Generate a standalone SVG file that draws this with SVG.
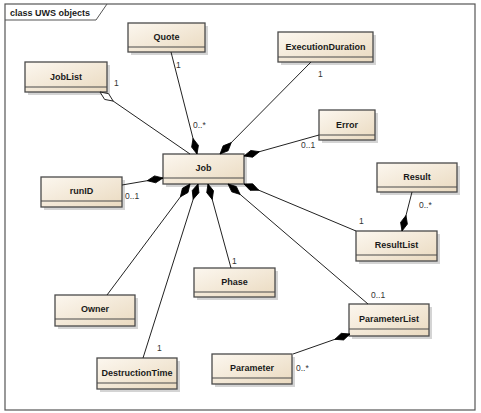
<svg xmlns="http://www.w3.org/2000/svg" width="481" height="413" viewBox="0 0 481 413">
<style>
.frame{fill:#fff;stroke:#555;stroke-width:1.2}
.box{fill:url(#g);stroke:#4a4a4a;stroke-width:1.3}
.sh{fill:#b8b8b8;opacity:.6}
.sep{stroke:#4a4a4a;stroke-width:1.2}
.name{font-family:"Liberation Sans",Arial,sans-serif;font-weight:bold;font-size:9px;fill:#1a1a1a;text-anchor:middle}
.title{font-family:"Liberation Sans",Arial,sans-serif;font-weight:bold;font-size:9px;fill:#1a1a1a}
.m{font-family:"Liberation Sans",Arial,sans-serif;font-size:8.5px;fill:#333}
.c{fill:none;stroke:#222;stroke-width:1}
.comp{marker-start:url(#dia)}
</style>
<defs>
<linearGradient id="g" x1="0" y1="0" x2="1" y2="1">
<stop offset="0" stop-color="#fcf7ef"/>
<stop offset="1" stop-color="#eadac0"/>
</linearGradient>
<marker id="dia" markerUnits="userSpaceOnUse" viewBox="-1 -5 18 10" refX="0" refY="0" markerWidth="18" markerHeight="10" orient="auto">
<path d="M0,0 L8,-3.5 L16,0 L8,3.5 Z" fill="#000" stroke="#000" stroke-width="0.8"/>
</marker>
<marker id="hdia" markerUnits="userSpaceOnUse" viewBox="-1 -5 18 10" refX="0" refY="0" markerWidth="18" markerHeight="10" orient="auto">
<path d="M0,0 L8,-3.5 L16,0 L8,3.5 Z" fill="#fff" stroke="#222" stroke-width="0.9"/>
</marker>
</defs>
<rect class="frame" x="5" y="4" width="470" height="406"/>
<path d="M5,20 L96,20 L107,4" fill="none" stroke="#555" stroke-width="1"/>
<text class="title" x="10" y="15.5">class UWS objects</text>
<g id="Quote"><rect class="sh" x="131" y="26" width="77" height="29"/><rect class="box" x="128" y="23" width="77" height="29"/><line class="sep" x1="128" y1="47" x2="205" y2="47"/><text class="name" x="166.5" y="40">Quote</text></g>
<g id="JobList"><rect class="sh" x="28" y="65" width="82" height="30"/><rect class="box" x="25" y="62" width="82" height="30"/><line class="sep" x1="25" y1="87" x2="107" y2="87"/><text class="name" x="66" y="79.5">JobList</text></g>
<g id="ExecutionDuration"><rect class="sh" x="281" y="35" width="95" height="30"/><rect class="box" x="278" y="32" width="95" height="30"/><line class="sep" x1="278" y1="57" x2="373" y2="57"/><text class="name" x="325.5" y="49.5">ExecutionDuration</text></g>
<g id="Error"><rect class="sh" x="322" y="113" width="56" height="30"/><rect class="box" x="319" y="110" width="56" height="30"/><line class="sep" x1="319" y1="135" x2="375" y2="135"/><text class="name" x="347" y="127.5">Error</text></g>
<g id="Job"><rect class="sh" x="166" y="157" width="81" height="30"/><rect class="box" x="163" y="154" width="81" height="30"/><line class="sep" x1="163" y1="178" x2="244" y2="178"/><text class="name" x="203.5" y="171">Job</text></g>
<g id="runID"><rect class="sh" x="44" y="180" width="81" height="30"/><rect class="box" x="41" y="177" width="81" height="30"/><line class="sep" x1="41" y1="201" x2="122" y2="201"/><text class="name" x="81.5" y="194">runID</text></g>
<g id="Result"><rect class="sh" x="380" y="166" width="80" height="29"/><rect class="box" x="377" y="163" width="80" height="29"/><line class="sep" x1="377" y1="187" x2="457" y2="187"/><text class="name" x="417" y="180">Result</text></g>
<g id="ResultList"><rect class="sh" x="359" y="234" width="81" height="30"/><rect class="box" x="356" y="231" width="81" height="30"/><line class="sep" x1="356" y1="255" x2="437" y2="255"/><text class="name" x="396.5" y="248">ResultList</text></g>
<g id="Owner"><rect class="sh" x="58" y="298" width="80" height="31"/><rect class="box" x="55" y="295" width="80" height="31"/><line class="sep" x1="55" y1="319" x2="135" y2="319"/><text class="name" x="95" y="312">Owner</text></g>
<g id="DestructionTime"><rect class="sh" x="100" y="361" width="80" height="31"/><rect class="box" x="97" y="358" width="80" height="31"/><line class="sep" x1="97" y1="383" x2="177" y2="383"/><text class="name" x="137" y="376">DestructionTime</text></g>
<g id="Phase"><rect class="sh" x="197" y="271" width="81" height="29"/><rect class="box" x="194" y="268" width="81" height="29"/><line class="sep" x1="194" y1="292" x2="275" y2="292"/><text class="name" x="234.5" y="285">Phase</text></g>
<g id="ParameterList"><rect class="sh" x="352" y="307" width="80" height="32"/><rect class="box" x="349" y="304" width="80" height="32"/><line class="sep" x1="349" y1="329" x2="429" y2="329"/><text class="name" x="389" y="321.5">ParameterList</text></g>
<g id="Parameter"><rect class="sh" x="215" y="357" width="80" height="30"/><rect class="box" x="212" y="354" width="80" height="30"/><line class="sep" x1="212" y1="378" x2="292" y2="378"/><text class="name" x="252" y="371">Parameter</text></g>
<g id="connectors">
<path class="c comp" d="M197,154 L171,52"/>
<path class="c" d="M100,92 L190,154" marker-start="url(#hdia)"/>
<path class="c comp" d="M220,154 L311,62"/>
<path class="c comp" d="M244,156 L319,135"/>
<path class="c comp" d="M163,178 L122,185"/>
<path class="c comp" d="M244,184 L356,231"/>
<path class="c comp" d="M228,184 L368,304"/>
<path class="c comp" d="M208,184 L231,268"/>
<path class="c comp" d="M198,184 L143,358"/>
<path class="c comp" d="M190,184 L107,295"/>
<path class="c comp" d="M402,231 L412,192"/>
<path class="c comp" d="M350,334 L293,354"/>
</g>
<g id="labels">
<text class="m" x="176" y="68">1</text>
<text class="m" x="193" y="128">0..*</text>
<text class="m" x="114" y="86">1</text>
<text class="m" x="318" y="77">1</text>
<text class="m" x="301" y="148">0..1</text>
<text class="m" x="125" y="199">0..1</text>
<text class="m" x="359" y="224">1</text>
<text class="m" x="419" y="208">0..*</text>
<text class="m" x="371" y="298">0..1</text>
<text class="m" x="232" y="264">1</text>
<text class="m" x="157" y="351">1</text>
<text class="m" x="296" y="371">0..*</text>
</g>
</svg>
